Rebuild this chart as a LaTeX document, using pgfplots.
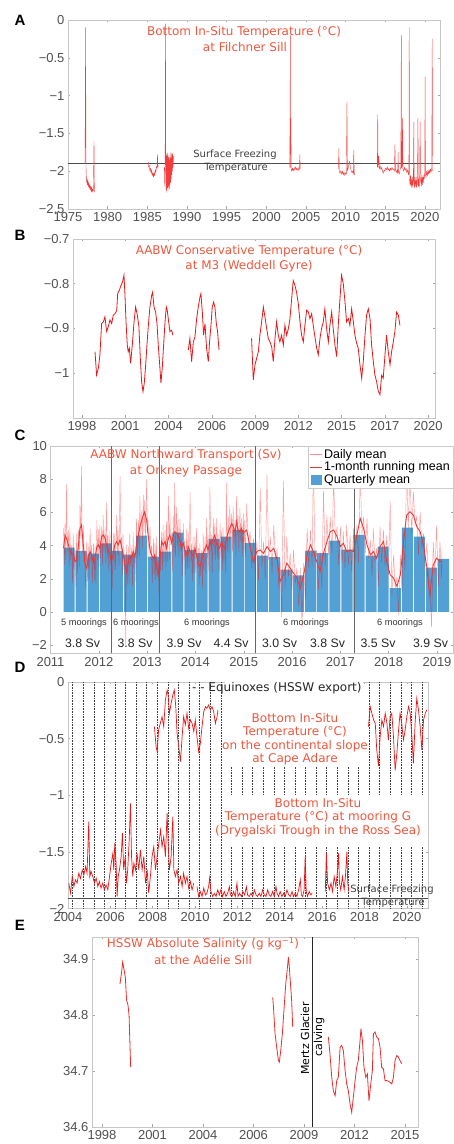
\documentclass[border=0pt]{standalone}
\usepackage{fontspec}
\setmainfont{Liberation Sans}
\newfontfamily\dv{DejaVu Sans}
\usepackage{pgfplots}
\pgfplotsset{compat=1.18}
\definecolor{ttl}{RGB}{238,88,62}
\definecolor{dred}{RGB}{232,22,22}
\definecolor{ared}{RGB}{245,60,60}
\definecolor{barblue}{RGB}{82,160,212}
\definecolor{tickc}{RGB}{80,80,80}
\newcommand{\tf}{\fontsize{13}{15}\selectfont}
\newcommand{\ttf}{\dv\fontsize{12}{14}\selectfont}
\newcommand{\smf}{\dv\fontsize{10}{12}\selectfont}
\newcommand{\lf}{\fontsize{12.5}{14}\selectfont}
\pgfplotsset{base/.style={scale only axis, anchor=south west,
  axis line style={draw=black!22, line width=0.6pt},
  tick style={draw=black!35, line width=0.5pt}, major tick length=2.5pt, tick align=inside,
  ticklabel style={font=\tf, text=tickc},
  /pgf/number format/assume math mode=true, /pgf/number format/1000 sep={},
  unbounded coords=jump}}
\begin{document}
\begin{tikzpicture}[x=1pt,y=1pt]
\useasboundingbox (0,0) rectangle (454,1144);
% ---------------- A
\begin{axis}[base, at={(68pt,935pt)}, width=372pt, height=189pt,
  xmin=1975, xmax=2021.9, ymin=-2.5, ymax=0,
  xtick={1975,1980,1985,1990,1995,2000,2005,2010,2015,2020},
  ytick={-2.5,-2,-1.5,-1,-0.5,0}, yticklabels={−2.5,−2,−1.5,−1,−0.5,0}]
\addplot[black!70, line width=0.7pt] coordinates {(1975,-1.9) (2021.9,-1.9)};
\addplot[ared, line width=0.4pt, line join=round] coordinates {
(1977.15,-1.90) (1977.22,-0.10) (1977.27,-1.95) (1977.30,-2.05) (1977.35,-2.15) (1977.40,-2.10) (1977.45,-2.18) (1977.50,-2.12) (1977.55,-2.20) (1977.60,-2.15) (1977.65,-2.22) (1977.70,-2.17) (1977.75,-2.24) (1977.80,-2.19) (1977.85,-2.25) (1977.90,-2.20) (1977.95,-2.27) (1978.00,-2.22) (1978.05,-2.28) (1978.10,-2.24) (1978.20,-2.26) (1978.28,-1.60) (1978.32,-2.22) (1978.38,-2.28)
(1980,nan)
(1985.12,-1.88) (1985.18,-1.95) (1985.25,-1.92) (1985.32,-2.00) (1985.40,-1.96) (1985.48,-2.03) (1985.55,-1.98) (1985.62,-2.06) (1985.70,-2.02) (1985.78,-2.08) (1985.85,-2.02) (1985.92,-2.06) (1986.00,-1.98) (1986.08,-2.02) (1986.15,-1.94) (1986.22,-1.96) (1986.28,-1.78) (1986.33,-1.95) (1986.38,-1.92)
(1986.7,nan)
(1987.15,-1.95) (1987.20,-2.20) (1987.25,-1.80) (1987.30,-0.05) (1987.33,-1.85) (1987.37,-2.25) (1987.41,-1.78) (1987.45,-2.28) (1987.49,-1.80) (1987.53,-2.22) (1987.57,-1.76) (1987.61,-2.26) (1987.65,-1.82) (1987.69,-2.20) (1987.73,-1.78) (1987.77,-2.24) (1987.81,-1.85) (1987.85,-2.18) (1987.89,-1.76) (1987.93,-2.15) (1987.97,-1.82) (1988.01,-2.10) (1988.05,-1.76) (1988.09,-2.05) (1988.13,-1.78) (1988.17,-2.00) (1988.21,-1.76) (1988.25,-1.95) (1988.30,-1.80)
(1995,nan)
(2002.95,-1.95) (2003.00,-1.30) (2003.03,-0.20) (2003.06,-1.95) (2003.10,-1.30) (2003.14,-1.97) (2003.2,-2.00) (2003.3,-1.96) (2003.4,-2.00) (2003.5,-1.95) (2003.6,-1.99) (2003.7,-1.94) (2003.8,-1.98) (2003.9,-1.96) (2004.0,-2.00) (2004.1,-1.95) (2004.18,-1.98) (2004.23,-1.78) (2004.28,-1.97)
(2006,nan)
(2009.10,-1.98) (2009.15,-1.70) (2009.20,-2.00) (2009.30,-2.03) (2009.40,-1.99) (2009.50,-2.04) (2009.60,-2.00) (2009.70,-2.05) (2009.80,-2.01) (2009.90,-2.06) (2010.00,-2.02) (2010.10,-2.04) (2010.17,-1.08) (2010.22,-1.99) (2010.30,-1.97) (2010.40,-1.92) (2010.50,-1.87) (2010.60,-1.95) (2010.70,-1.99) (2010.80,-2.02) (2010.90,-2.00) (2010.98,-2.04) (2011.03,-1.72) (2011.08,-2.02) (2011.15,-2.05)
(2012,nan)
(2014.00,-1.95) (2014.05,-1.25) (2014.10,-1.95) (2014.20,-1.80) (2014.25,-1.97) (2014.35,-1.93) (2014.45,-1.98) (2014.55,-1.95) (2014.65,-2.00) (2014.75,-2.03) (2014.85,-1.98) (2014.95,-2.00) (2015.05,-1.96) (2015.15,-1.98) (2015.25,-1.94) (2015.35,-1.99) (2015.45,-1.96) (2015.55,-2.00) (2015.65,-1.96) (2015.75,-1.99) (2015.85,-1.95) (2015.95,-1.98) (2016.05,-1.97) (2016.15,-2.00) (2016.22,-1.65) (2016.28,-1.98) (2016.38,-2.02) (2016.48,-1.98) (2016.58,-2.03) (2016.62,-1.75) (2016.66,-2.00) (2016.76,-2.04) (2016.86,-1.98) (2016.96,-1.95) (2017.02,-0.20) (2017.06,-1.96) (2017.12,-1.92) (2017.18,-1.30) (2017.22,-1.97) (2017.32,-2.00) (2017.42,-1.95) (2017.52,-1.99) (2017.62,-1.96) (2017.72,-2.02) (2017.82,-1.98) (2017.92,-2.05) (2017.98,-2.02) (2018.02,-0.10) (2018.06,-2.10) (2018.12,-2.18) (2018.18,-2.05) (2018.24,-2.20) (2018.30,-2.10) (2018.36,-2.22) (2018.42,-2.08) (2018.48,-2.20) (2018.54,-2.12) (2018.60,-1.35) (2018.64,-2.15) (2018.70,-2.22) (2018.76,-2.08) (2018.82,-2.20) (2018.88,-2.12) (2018.94,-2.22) (2019.00,-2.06) (2019.06,-2.18) (2019.12,-1.30) (2019.16,-2.20) (2019.22,-2.10) (2019.28,-2.22) (2019.34,-2.06) (2019.40,-1.35) (2019.44,-2.15) (2019.50,-2.08) (2019.56,-2.20) (2019.62,-2.05) (2019.68,-2.18) (2019.74,-2.08) (2019.80,-2.15) (2019.86,-2.05) (2019.92,-2.10) (2019.98,-2.02) (2020.02,-0.75) (2020.06,-2.05) (2020.14,-2.08) (2020.22,-2.00) (2020.30,-2.06) (2020.38,-1.99) (2020.46,-2.04) (2020.54,-1.98) (2020.62,-2.03) (2020.70,-1.97) (2020.78,-2.01) (2020.86,-1.96) (2020.92,-0.25) (2020.96,-1.98) (2021.02,-2.00)};
\end{axis}
% ---------------- B
\begin{axis}[base, at={(73pt,726pt)}, width=362pt, height=179pt,
  xmin=1997.43, xmax=2020.44, ymin=-1.1, ymax=-0.7,
  xtick={1998,2000.75,2003.5,2006.25,2009,2011.75,2014.5,2017.25,2020},
  xticklabels={1998,2001,2004,2006,2009,2012,2015,2017,2020},
  ytick={-1,-0.9,-0.8,-0.7}, yticklabels={−1,−0.9,−0.8,−0.7}]
\addplot[dred, line width=0.8pt] coordinates {
(1998.83,-0.952) (1998.93,-1.004) (1999.04,-0.989) (1999.14,-0.959) (1999.25,-0.889) (1999.36,-0.885) (1999.46,-0.874) (1999.57,-0.907) (1999.67,-0.896) (1999.78,-0.881) (1999.89,-0.889) (1999.99,-0.870) (2000.10,-0.867) (2000.21,-0.859) (2000.27,-0.822) (2000.37,-0.815) (2000.48,-0.804) (2000.58,-0.796) (2000.67,-0.781) (2000.73,-0.822) (2000.80,-0.885) (2000.88,-0.937) (2000.94,-0.952) (2001.01,-0.944) (2001.09,-0.978) (2001.20,-0.937) (2001.31,-0.885) (2001.41,-0.852) (2001.52,-0.870) (2001.62,-0.896) (2001.71,-0.967) (2001.79,-1.019) (2001.88,-1.041) (2001.96,-1.022) (2002.05,-0.981) (2002.13,-0.937) (2002.22,-0.893) (2002.32,-0.852) (2002.43,-0.826) (2002.49,-0.819) (2002.58,-0.852) (2002.68,-0.863) (2002.77,-0.889) (2002.85,-0.937) (2002.94,-0.981) (2003.02,-1.022) (2003.11,-0.985) (2003.19,-0.937) (2003.28,-0.885) (2003.36,-0.852) (2003.42,-0.859) (2003.51,-0.885) (2003.59,-0.907) (2003.70,-0.904) (2003.78,-0.915)
(2004.3,nan)
(2004.76,-0.948) (2004.86,-0.922) (2004.97,-0.974) (2005.08,-0.930) (2005.18,-0.919) (2005.29,-0.878) (2005.39,-0.852) (2005.50,-0.830) (2005.56,-0.822) (2005.65,-0.863) (2005.73,-0.915) (2005.82,-0.889) (2005.92,-0.944) (2006.03,-0.974) (2006.11,-0.930) (2006.20,-0.893) (2006.28,-0.852) (2006.37,-0.841) (2006.45,-0.852) (2006.54,-0.889) (2006.62,-0.907) (2006.71,-0.948)
(2007.5,nan)
(2008.78,-0.922) (2008.89,-1.015) (2009.00,-0.981) (2009.10,-0.967) (2009.21,-0.952) (2009.31,-0.915) (2009.42,-0.885) (2009.53,-0.852) (2009.63,-0.874) (2009.74,-0.900) (2009.84,-0.922) (2009.95,-0.930) (2010.06,-0.941) (2010.16,-0.974) (2010.27,-0.922) (2010.37,-0.885) (2010.48,-0.915) (2010.58,-0.930) (2010.69,-0.915) (2010.80,-0.937) (2010.90,-0.893) (2011.01,-0.915) (2011.12,-0.900) (2011.22,-0.878) (2011.33,-0.833) (2011.43,-0.793) (2011.54,-0.804) (2011.64,-0.819) (2011.75,-0.844) (2011.86,-0.885) (2011.96,-0.915) (2012.07,-0.930) (2012.17,-0.893) (2012.28,-0.859) (2012.39,-0.863) (2012.49,-0.878) (2012.60,-0.867) (2012.70,-0.893) (2012.81,-0.919) (2012.92,-0.944) (2013.02,-0.959) (2013.13,-0.922) (2013.23,-0.900) (2013.34,-0.885) (2013.44,-0.856) (2013.55,-0.900) (2013.66,-0.930) (2013.76,-0.893) (2013.87,-0.863) (2013.97,-0.900) (2014.08,-0.937) (2014.19,-0.963) (2014.29,-0.893) (2014.40,-0.833) (2014.50,-0.781) (2014.61,-0.800) (2014.72,-0.841) (2014.82,-0.885) (2014.93,-0.878) (2015.03,-0.893) (2015.14,-0.856) (2015.25,-0.885) (2015.35,-0.915) (2015.46,-0.933) (2015.56,-0.944) (2015.67,-0.981) (2015.78,-1.011) (2015.88,-0.974) (2015.99,-0.915) (2016.09,-0.870) (2016.20,-0.856) (2016.31,-0.878) (2016.41,-0.937) (2016.52,-0.974) (2016.62,-1.004) (2016.73,-1.019) (2016.84,-1.041) (2016.94,-1.048) (2017.05,-1.004) (2017.15,-1.011) (2017.26,-0.959) (2017.36,-0.915) (2017.47,-0.952) (2017.58,-0.981) (2017.68,-0.952) (2017.79,-0.930) (2017.89,-0.907) (2018.00,-0.863) (2018.11,-0.870) (2018.21,-0.893)};
\end{axis}
% ---------------- C
\begin{axis}[base, at={(50.5pt,490.5pt)}, width=402.5pt, height=207.5pt,
  xmin=2011, xmax=2019.33, ymin=-2.5, ymax=10,
  xtick={2011,2012,...,2019}, ytick={-2,0,2,4,6,8,10}, yticklabels={−2,0,2,4,6,8,10},
  legend style={at={(1,1)}, anchor=north east, draw=black!20, fill=white, font=\lf,
    inner xsep=1pt, inner ysep=1pt, row sep=-2pt, cells={anchor=west}}]
\addlegendimage{legend image code/.code={\draw[red!45, line width=0.5pt] (0pt,0pt) -- (12pt,0pt);}}
\addlegendimage{legend image code/.code={\draw[dred!85, line width=1pt] (0pt,0pt) -- (12pt,0pt);}}
\addlegendimage{legend image code/.code={\fill[barblue] (2pt,-4.5pt) rectangle (12pt,4.5pt);}}
\addplot[ybar, bar width=0.23, fill=barblue, draw=none, forget plot] coordinates {
(2011.385,3.88) (2011.635,3.68) (2011.885,3.52) (2012.135,4.14) (2012.385,3.68) (2012.635,3.46) (2012.885,4.60) (2013.135,3.34)
(2013.385,3.64) (2013.635,4.78) (2013.885,3.74) (2014.135,3.54) (2014.385,4.40) (2014.635,4.54) (2014.885,4.94) (2015.135,4.16)
(2015.385,3.40) (2015.635,3.30) (2015.885,2.55) (2016.135,2.20) (2016.385,3.70) (2016.635,3.55) (2016.885,4.30) (2017.135,3.75)
(2017.385,4.64) (2017.635,3.40) (2017.885,3.94) (2018.135,1.44) (2018.385,5.08) (2018.635,4.54) (2018.885,2.68) (2019.135,3.20)};
\addplot[red, opacity=0.4, line width=0.45pt, forget plot] coordinates {
(2011.27,5.04) (2011.287,2.84) (2011.30,5.34) (2011.317,3.14) (2011.33,7.7) (2011.347,3.64) (2011.37,4.94) (2011.387,2.74) (2011.40,5.14) (2011.417,3.14) (2011.44,4.04) (2011.457,1.74) (2011.47,4.74) (2011.487,2.54) (2011.51,3.74) (2011.527,1.54) (2011.54,4.74) (2011.557,2.34) (2011.58,4.94) (2011.597,2.74) (2011.61,6.44) (2011.627,4.44) (2011.64,8.8) (2011.657,3.54) (2011.68,5.24) (2011.697,3.04) (2011.71,3.64) (2011.727,1.44) (2011.75,4.24) (2011.767,1.84) (2011.78,4.14) (2011.797,1.94) (2011.82,5.04) (2011.837,3.04) (2011.85,4.04) (2011.867,1.74) (2011.89,4.14) (2011.907,1.94) (2011.92,3.94) (2011.937,1.74) (2011.96,5.54) (2011.977,3.14) (2011.99,4.94) (2012.007,2.74)
(2012.02,5.24) (2012.037,3.24) (2012.06,5.14) (2012.077,2.84) (2012.09,5.84) (2012.107,3.64) (2012.13,5.14) (2012.147,2.94) (2012.16,6.6) (2012.177,3.24) (2012.19,4.64) (2012.207,2.44) (2012.23,4.84) (2012.247,2.84) (2012.26,3.64) (2012.277,1.34) (2012.30,4.74) (2012.317,2.54) (2012.33,4.74) (2012.347,2.54) (2012.37,5.84) (2012.387,3.44) (2012.40,4.94) (2012.417,2.74) (2012.44,8.2) (2012.457,3.74) (2012.47,4.54) (2012.487,2.24) (2012.50,4.74) (2012.517,2.54) (2012.54,3.54) (2012.557,-2.0) (2012.57,4.04) (2012.587,1.64) (2012.61,3.94) (2012.627,1.74) (2012.64,4.74) (2012.657,2.74) (2012.68,3.84) (2012.697,1.54) (2012.71,4.84) (2012.727,2.64) (2012.75,4.04) (2012.767,1.84) (2012.78,5.64) (2012.797,3.24) (2012.82,5.54) (2012.837,3.34) (2012.85,7.0) (2012.867,4.54) (2012.89,6.14) (2012.907,3.84) (2012.92,7.04) (2012.937,4.84) (2012.95,6.74) (2012.967,4.54) (2012.99,8.0) (2013.007,4.74)
(2013.02,5.54) (2013.037,3.34) (2013.06,5.14) (2013.077,3.14) (2013.09,4.04) (2013.107,1.74) (2013.13,4.44) (2013.147,2.24) (2013.16,4.14) (2013.177,1.94) (2013.19,4.54) (2013.207,2.14) (2013.23,3.14) (2013.247,0.94) (2013.26,4.44) (2013.277,2.44) (2013.30,4.84) (2013.317,2.54) (2013.33,5.24) (2013.347,3.04) (2013.37,4.94) (2013.387,2.74) (2013.40,5.44) (2013.417,3.04) (2013.44,7.0) (2013.457,3.14) (2013.47,6.04) (2013.487,4.04) (2013.51,4.74) (2013.527,2.44) (2013.54,5.84) (2013.557,3.64) (2013.57,7.8) (2013.587,3.34) (2013.61,6.34) (2013.627,3.94) (2013.64,5.54) (2013.657,3.34) (2013.68,5.64) (2013.697,3.64) (2013.71,4.44) (2013.727,2.14) (2013.75,5.34) (2013.767,3.14) (2013.78,4.44) (2013.797,2.24) (2013.82,5.04) (2013.837,2.64) (2013.85,4.84) (2013.867,2.64) (2013.89,7.2) (2013.907,3.04) (2013.92,4.14) (2013.937,1.84) (2013.95,4.54) (2013.967,2.34) (2013.99,4.54) (2014.007,2.34)
(2014.02,5.04) (2014.037,2.64) (2014.06,3.84) (2014.077,1.64) (2014.09,4.14) (2014.107,2.14) (2014.13,3.74) (2014.147,1.44) (2014.16,4.74) (2014.177,2.54) (2014.20,4.54) (2014.217,2.34) (2014.23,5.64) (2014.247,3.24) (2014.26,4.64) (2014.277,2.44) (2014.30,7.5) (2014.317,3.64) (2014.33,4.64) (2014.347,2.34) (2014.37,5.64) (2014.387,3.44) (2014.40,5.34) (2014.417,3.14) (2014.44,5.64) (2014.457,3.24) (2014.47,4.64) (2014.487,2.44) (2014.51,5.34) (2014.527,3.34) (2014.54,4.84) (2014.557,2.54) (2014.57,5.14) (2014.587,2.94) (2014.61,4.54) (2014.627,2.34) (2014.64,7.8) (2014.657,3.64) (2014.68,5.74) (2014.697,3.54) (2014.71,6.44) (2014.727,4.44) (2014.75,5.94) (2014.767,3.64) (2014.78,6.34) (2014.797,4.14) (2014.82,5.54) (2014.837,3.34) (2014.85,7.0) (2014.867,4.64) (2014.88,5.84) (2014.897,3.64) (2014.92,6.24) (2014.937,4.24) (2014.95,5.64) (2014.967,3.34) (2014.99,5.94) (2015.007,3.74)
(2015.02,5.54) (2015.037,3.34) (2015.06,6.54) (2015.095,4.14) (2015.13,4.84) (2015.165,2.64) (2015.20,4.44) (2015.235,2.44) (2015.27,4.24) (2015.305,1.94) (2015.34,7.5) (2015.375,2.74) (2015.41,4.24) (2015.445,2.04) (2015.48,8.3) (2015.515,3.14) (2015.55,4.54) (2015.585,2.34) (2015.62,5.24) (2015.655,3.24) (2015.69,3.74) (2015.725,1.44) (2015.75,3.04) (2015.785,-0.3) (2015.82,7.9) (2015.855,1.44) (2015.89,4.54) (2015.925,2.14) (2015.96,3.54) (2015.995,1.34)
(2016.03,3.74) (2016.065,1.74) (2016.10,2.64) (2016.135,0.34) (2016.17,2.64) (2016.205,-0.9) (2016.24,2.94) (2016.275,0.74) (2016.31,5.04) (2016.345,2.64) (2016.38,4.94) (2016.415,2.74) (2016.44,9.2) (2016.475,3.04) (2016.51,3.64) (2016.545,1.34) (2016.58,3.64) (2016.615,1.44) (2016.65,7.3) (2016.685,2.74) (2016.72,5.84) (2016.755,3.44) (2016.79,5.74) (2016.825,3.54) (2016.86,8.0) (2016.895,4.34) (2016.93,5.14) (2016.965,2.84)
(2017.00,5.14) (2017.035,2.94) (2017.06,4.84) (2017.095,2.64) (2017.13,5.24) (2017.165,2.84) (2017.20,4.64) (2017.235,2.44) (2017.27,5.04) (2017.305,3.04) (2017.34,5.24) (2017.375,2.94) (2017.41,8.5) (2017.445,4.64) (2017.48,5.74) (2017.515,3.54) (2017.55,5.64) (2017.585,3.24) (2017.62,4.34) (2017.655,2.14) (2017.68,5.04) (2017.715,3.04) (2017.75,3.84) (2017.785,1.54) (2017.82,5.14) (2017.855,2.94) (2017.89,4.94) (2017.925,2.74) (2017.96,4.64) (2017.995,2.24)
(2018.03,6.7) (2018.065,0.94) (2018.10,3.44) (2018.135,1.44) (2018.17,2.14) (2018.205,-0.16) (2018.24,3.44) (2018.275,1.24) (2018.30,4.74) (2018.335,2.54) (2018.37,9.0) (2018.405,5.04) (2018.44,8.5) (2018.475,4.74) (2018.51,7.24) (2018.545,5.24) (2018.58,5.74) (2018.615,3.44) (2018.65,6.04) (2018.685,3.84) (2018.72,4.74) (2018.755,2.74) (2018.79,4.24) (2018.825,1.84) (2018.85,1.90) (2018.885,-0.9) (2018.92,4.24) (2018.955,2.24) (2018.99,5.2) (2019.025,1.54) (2019.06,4.24) (2019.095,2.04) (2019.10,3.6)};
\addplot[dred!85, line width=0.9pt, forget plot] coordinates {
(2011.27,3.84) (2011.30,4.64) (2011.33,4.44) (2011.37,4.04) (2011.40,3.74) (2011.44,3.44) (2011.47,3.54) (2011.51,3.04) (2011.54,3.14) (2011.58,4.04) (2011.61,5.04) (2011.64,5.24) (2011.68,4.04) (2011.71,2.94) (2011.75,2.64) (2011.78,3.24) (2011.82,3.64) (2011.85,3.44) (2011.89,2.94) (2011.92,3.24) (2011.96,3.94) (2011.99,4.04) (2012.02,3.84) (2012.06,4.54) (2012.09,4.64) (2012.13,4.44) (2012.16,4.04) (2012.19,3.74) (2012.23,3.44) (2012.26,3.04) (2012.30,3.54) (2012.33,4.04) (2012.37,4.24) (2012.40,4.04) (2012.44,4.34) (2012.47,3.94) (2012.50,3.54) (2012.54,2.84) (2012.57,2.44) (2012.61,3.04) (2012.64,3.34) (2012.68,3.24) (2012.71,3.64) (2012.75,3.34) (2012.78,4.04) (2012.82,4.64) (2012.85,5.14) (2012.89,5.54) (2012.92,5.84) (2012.95,6.04) (2012.99,5.54) (2013.02,4.64) (2013.06,3.74) (2013.09,3.44) (2013.13,3.24) (2013.16,3.44) (2013.19,2.94) (2013.23,2.24) (2013.26,3.04) (2013.30,4.24) (2013.33,4.04) (2013.37,4.24) (2013.40,3.84) (2013.44,4.44) (2013.47,4.64) (2013.51,4.14) (2013.54,4.64) (2013.57,4.84) (2013.61,4.74) (2013.64,4.64) (2013.68,4.24) (2013.71,3.84) (2013.75,4.14) (2013.78,3.74) (2013.82,3.44) (2013.85,3.94) (2013.89,3.64) (2013.92,3.54) (2013.95,3.34) (2013.99,3.84) (2014.02,3.44) (2014.06,2.94) (2014.09,2.74) (2014.13,3.14) (2014.16,3.54) (2014.20,3.84) (2014.23,4.04) (2014.26,3.74) (2014.30,4.24) (2014.33,4.04) (2014.37,4.44) (2014.40,4.64) (2014.44,4.04) (2014.47,3.74) (2014.51,3.94) (2014.54,4.24) (2014.57,3.94) (2014.61,3.84) (2014.64,4.44) (2014.68,4.84) (2014.71,5.04) (2014.75,5.34) (2014.78,5.14) (2014.82,4.84) (2014.85,5.44) (2014.88,4.94) (2014.92,4.84) (2014.95,5.04) (2014.99,4.74) (2015.02,4.84) (2015.06,4.94) (2015.13,3.94) (2015.20,3.04) (2015.27,3.64) (2015.34,3.74) (2015.41,3.54) (2015.48,3.94) (2015.55,3.64) (2015.62,3.84) (2015.69,3.14) (2015.75,1.84) (2015.82,2.24) (2015.89,2.94) (2015.96,2.64) (2016.03,2.34) (2016.10,2.04) (2016.17,1.44) (2016.24,2.24) (2016.31,3.44) (2016.38,4.04) (2016.44,3.64) (2016.51,3.04) (2016.58,2.44) (2016.65,3.54) (2016.72,4.24) (2016.79,4.84) (2016.86,4.94) (2016.93,4.54) (2017.00,3.94) (2017.06,4.14) (2017.13,3.64) (2017.20,3.74) (2017.27,3.64) (2017.34,4.64) (2017.41,5.64) (2017.48,5.04) (2017.55,4.04) (2017.62,3.44) (2017.68,3.64) (2017.75,3.24) (2017.82,3.94) (2017.89,4.24) (2017.96,3.04) (2018.03,2.24) (2018.10,2.04) (2018.17,1.54) (2018.24,2.24) (2018.30,4.04) (2018.37,5.84) (2018.44,6.04) (2018.51,5.84) (2018.58,5.14) (2018.65,4.84) (2018.72,4.04) (2018.79,2.64) (2018.85,1.00) (2018.92,2.84) (2018.99,3.24) (2019.06,3.04) (2019.10,3.04)};
\addplot[black!60, line width=0.8pt, forget plot] coordinates {(2012.27,-2.5) (2012.27,10) (2012.5,nan) (2013.25,-2.5) (2013.25,10) (2014,nan) (2015.25,-2.5) (2015.25,10) (2016,nan) (2017.28,-2.5) (2017.28,10)};
\legend{Daily mean, 1-month running mean, Quarterly mean}
\end{axis}
% ---------------- D
\begin{axis}[base, at={(68pt,235.5pt)}, width=360pt, height=226.5pt,
  xmin=2004, xmax=2021, ymin=-2, ymax=0,
  xtick={2004,2006,...,2020}, ytick={-2,-1.5,-1,-0.5,0}, yticklabels={−2,−1.5,−1,−0.5,0}]
\addplot[ycomb, black!75, densely dotted, line width=0.6pt] coordinates {
(2004.22,-2) (2004.72,-2) (2005.22,-2) (2005.72,-2) (2006.22,-2) (2006.72,-2) (2007.22,-2) (2007.72,-2) (2008.22,-2) (2008.72,-2) (2009.22,-2) (2009.72,-2) (2010.22,-2) (2010.72,-2) (2011.22,-2) (2011.72,-2) (2012.22,-2) (2012.72,-2) (2013.22,-2) (2013.72,-2) (2014.22,-2) (2014.72,-2) (2015.22,-2) (2015.72,-2) (2016.22,-2) (2016.72,-2) (2017.22,-2) (2017.72,-2) (2018.22,-2) (2018.72,-2) (2019.22,-2) (2019.72,-2) (2020.22,-2) (2020.72,-2)};
\fill[white] (axis cs:2011.4,0) rectangle (axis cs:2017.95,-0.75);
\fill[white] (axis cs:2011.4,-0.997) rectangle (axis cs:2021,-1.456);
\addplot[black!70, line width=0.7pt] coordinates {(2004,-1.906) (2021,-1.906)};
\addplot[dred, line width=0.7pt] coordinates {
(2008.08,-0.394) (2008.16,-0.571) (2008.21,-0.615) (2008.28,-0.42) (2008.36,-0.365) (2008.44,-0.306) (2008.52,-0.394) (2008.60,-0.159) (2008.68,-0.071) (2008.73,-0.115) (2008.79,-0.276) (2008.87,-0.188) (2008.95,-0.115) (2009.02,-0.071) (2009.09,-0.218) (2009.15,-0.453) (2009.23,-0.571) (2009.31,-0.703) (2009.39,-0.482) (2009.46,-0.306) (2009.54,-0.379) (2009.62,-0.276) (2009.70,-0.409) (2009.78,-0.335) (2009.86,-0.365) (2009.94,-0.438) (2010.01,-0.335) (2010.09,-0.482) (2010.17,-0.615) (2010.25,-0.541) (2010.33,-0.394) (2010.41,-0.262) (2010.49,-0.218) (2010.56,-0.232) (2010.64,-0.203) (2010.72,-0.247) (2010.80,-0.218) (2010.88,-0.262) (2010.96,-0.365) (2011.04,-0.306) (2011.08,-0.247)
(2014,nan)
(2018.19,-0.394) (2018.27,-0.218) (2018.35,-0.276) (2018.43,-0.335) (2018.51,-0.365) (2018.58,-0.6) (2018.66,-0.74) (2018.74,-0.482) (2018.82,-0.335) (2018.90,-0.394) (2018.98,-0.276) (2019.06,-0.365) (2019.13,-0.512) (2019.21,-0.306) (2019.29,-0.276) (2019.37,-0.482) (2019.45,-0.78) (2019.53,-0.629) (2019.61,-0.424) (2019.68,-0.276) (2019.76,-0.365) (2019.84,-0.512) (2019.92,-0.424) (2020.00,-0.306) (2020.08,-0.218) (2020.16,-0.276) (2020.24,-0.482) (2020.31,-0.718) (2020.39,-0.365) (2020.47,-0.144) (2020.55,-0.247) (2020.63,-0.394) (2020.71,-0.6) (2020.79,-0.335) (2020.87,-0.276) (2020.94,-0.247)};
\addplot[dred, line width=0.7pt] coordinates {
(2004.04,-1.776) (2004.12,-1.865) (2004.20,-1.718) (2004.28,-1.806) (2004.35,-1.747) (2004.43,-1.776) (2004.51,-1.688) (2004.59,-1.735) (2004.67,-1.659) (2004.75,-1.703) (2004.83,-1.629) (2004.90,-1.688) (2004.98,-1.232) (2005.03,-1.718) (2005.09,-1.674) (2005.17,-1.718) (2005.25,-1.776) (2005.33,-1.732) (2005.41,-1.806) (2005.48,-1.762) (2005.56,-1.82) (2005.64,-1.776) (2005.72,-1.835) (2005.80,-1.791) (2005.88,-1.835) (2005.96,-1.718) (2006.04,-1.6) (2006.12,-1.512) (2006.16,-1.659) (2006.21,-1.424) (2006.27,-1.6) (2006.32,-1.894) (2006.37,-1.718) (2006.43,-1.659) (2006.51,-1.541) (2006.57,-1.335) (2006.63,-1.659) (2006.70,-1.541) (2006.76,-1.776) (2006.82,-1.659) (2006.89,-1.394) (2006.95,-1.071) (2007.00,-1.541) (2007.06,-1.718) (2007.11,-1.6) (2007.19,-1.659) (2007.26,-1.512) (2007.34,-1.659) (2007.42,-1.482) (2007.50,-1.659) (2007.58,-1.541) (2007.66,-1.776) (2007.74,-1.659) (2007.81,-1.865) (2007.89,-1.718) (2007.97,-1.541) (2008.05,-1.453) (2008.13,-1.659) (2008.21,-1.541) (2008.29,-1.424) (2008.37,-1.306) (2008.44,-1.453) (2008.52,-1.365) (2008.60,-1.541) (2008.68,-1.159) (2008.73,-1.424) (2008.79,-1.659) (2008.87,-1.541) (2008.95,-1.188) (2009.00,-1.659) (2009.07,-1.718) (2009.15,-1.659) (2009.23,-1.776) (2009.31,-1.718) (2009.39,-1.806) (2009.46,-1.688) (2009.54,-1.776) (2009.62,-1.718) (2009.70,-1.82) (2009.78,-1.762) (2009.86,-1.835) (2009.94,-1.776)
(2010.02,nan)
(2010.09,-1.806) (2010.17,-1.894) (2010.25,-1.85) (2010.33,-1.894) (2010.41,-1.82) (2010.49,-1.88) (2010.56,-1.865) (2010.64,-1.806) (2010.69,-1.73) (2010.75,-1.85) (2010.83,-1.894) (2010.91,-1.865) (2010.99,-1.894) (2011.07,-1.835) (2011.15,-1.88) (2011.22,-1.835) (2011.30,-1.894) (2011.38,-1.85) (2011.46,-1.894) (2011.54,-1.865) (2011.62,-1.806) (2011.67,-1.88) (2011.74,-1.894) (2011.82,-1.85) (2011.90,-1.894) (2011.98,-1.776) (2012.03,-1.894) (2012.10,-1.865) (2012.19,-1.894) (2012.26,-1.85) (2012.34,-1.88) (2012.42,-1.806) (2012.48,-1.88) (2012.56,-1.894) (2012.64,-1.865) (2012.72,-1.894) (2012.80,-1.835) (2012.88,-1.88) (2012.95,-1.894) (2013.03,-1.865) (2013.11,-1.894) (2013.19,-1.835) (2013.27,-1.88) (2013.35,-1.894) (2013.43,-1.835) (2013.50,-1.88) (2013.58,-1.894) (2013.66,-1.85) (2013.74,-1.894) (2013.82,-1.806) (2013.87,-1.865) (2013.94,-1.894) (2014.02,-1.85) (2014.10,-1.894) (2014.18,-1.865) (2014.26,-1.894) (2014.34,-1.835) (2014.42,-1.88) (2014.50,-1.894) (2014.58,-1.85) (2014.65,-1.894) (2014.73,-1.865) (2014.81,-1.894) (2014.89,-1.835) (2014.97,-1.747) (2015.02,-1.88) (2015.08,-1.894) (2015.15,-1.835) (2015.20,-1.541) (2015.25,-1.85) (2015.31,-1.894) (2015.39,-1.85) (2015.47,-1.88) (2015.53,-1.865)
(2015.8,nan)
(2016.15,-1.85) (2016.20,-1.512) (2016.26,-1.776) (2016.34,-1.835) (2016.42,-1.776) (2016.49,-1.85) (2016.57,-1.718) (2016.65,-1.806) (2016.73,-1.659) (2016.78,-1.512) (2016.82,-1.776) (2016.88,-1.835) (2016.96,-1.718) (2017.04,-1.835) (2017.10,-1.718) (2017.17,-1.497) (2017.21,-1.776) (2017.26,-1.85)};
\end{axis}
% ---------------- E
\begin{axis}[base, at={(92pt,17pt)}, width=326pt, height=190pt,
  xmin=1997.44, xmax=2015.73, ymin=34.6, ymax=34.94,
  xtick={1998,2000.8333,2003.6667,2006.5,2009.3333,2012.1667,2015},
  xticklabels={1998,2001,2004,2006,2009,2012,2015},
  ytick={34.6,34.7,34.8,34.9}, yticklabels={34.6,34.7,34.8,34.9}]
\addplot[black!85, line width=0.8pt] coordinates {(2009.78,34.6) (2009.78,34.94)};
\addplot[dred!90, line width=0.8pt] coordinates {
(1999.01,34.856) (1999.10,34.877) (1999.16,34.895) (1999.23,34.883) (1999.31,34.868) (1999.38,34.827) (1999.46,34.818) (1999.52,34.8) (1999.55,34.767) (1999.61,34.707)
(2003,nan)
(2007.58,34.832) (2007.62,34.815) (2007.71,34.767) (2007.80,34.743) (2007.90,34.719) (2007.95,34.716) (2008.03,34.737) (2008.12,34.767) (2008.21,34.809) (2008.31,34.856) (2008.36,34.871) (2008.46,34.904) (2008.51,34.886) (2008.59,34.85) (2008.64,34.827) (2008.70,34.779)
(2009.5,nan)
(2010.70,34.761) (2010.79,34.731) (2010.89,34.689) (2010.98,34.665) (2011.08,34.656) (2011.17,34.683) (2011.26,34.689) (2011.36,34.743) (2011.45,34.746) (2011.54,34.737) (2011.64,34.701) (2011.73,34.677) (2011.82,34.665) (2011.92,34.641) (2012.01,34.626) (2012.10,34.653) (2012.20,34.683) (2012.29,34.707) (2012.38,34.719) (2012.48,34.755) (2012.53,34.776) (2012.61,34.755) (2012.70,34.707) (2012.80,34.689) (2012.89,34.695) (2012.98,34.647) (2013.08,34.677) (2013.17,34.701) (2013.23,34.767) (2013.32,34.77) (2013.41,34.761) (2013.51,34.758) (2013.60,34.743) (2013.69,34.707) (2013.79,34.704) (2013.88,34.683) (2013.97,34.683) (2014.07,34.682) (2014.16,34.68) (2014.26,34.677) (2014.35,34.689) (2014.44,34.719) (2014.54,34.728) (2014.63,34.725) (2014.72,34.719) (2014.82,34.713)};
\end{axis}
% ---------------- texts
\begin{scope}[every node/.style={inner sep=0pt}]
\foreach \l/\y in {A/1124,B/909,C/709,D/477,E/219}
  \node[font=\fontsize{15}{15}\selectfont\bfseries] at (20,\y) {\l};
\node[font=\ttf, text=ttl] at (244,1112) {Bottom In-Situ Temperature (°C)};
\node[font=\ttf, text=ttl] at (245,1097) {at Filchner Sill};
\node[font=\smf, text=black!75] at (235,989) {Surface Freezing};
\node[font=\smf, text=black!75] at (236,976) {Temperature};
\node[font=\ttf, text=ttl] at (249,893) {AABW Conservative Temperature (°C)};
\node[font=\ttf, text=ttl] at (249,878) {at M3 (Weddell Gyre)};
\node[font=\ttf, text=ttl] at (186,689) {AABW Northward Transport (Sv)};
\node[font=\ttf, text=ttl] at (186,673) {at Orkney Passage};
\foreach \x in {136,207,306,400} \node[font=\fontsize{9.2}{10}\selectfont, text=black!80] at (\x,521.3) {6 moorings};
\node[font=\fontsize{9.2}{10}\selectfont, text=black!80] at (84,521.3) {5 moorings};
\foreach \x/\t in {82.5/3.8,135/3.8,184/3.9,231/4.4,279.5/3.0,327.5/3.8,378/3.5,430.5/3.9}
  \node[font=\fontsize{12.3}{13}\selectfont, text=black!85] at (\x,500.7) {\t\ Sv};
\node[font=\dv\fontsize{12}{14}\selectfont, text=black!85, anchor=west] at (192,456) {- - Equinoxes (HSSW export)};
\node[font=\ttf, text=ttl] at (295,426) {Bottom In-Situ};
\node[font=\ttf, text=ttl] at (295,412) {Temperature (°C)};
\node[font=\ttf, text=ttl] at (295,398) {on the continental slope};
\node[font=\ttf, text=ttl] at (295,384.5) {at Cape Adare};
\node[font=\ttf, text=ttl] at (318,341) {Bottom In-Situ};
\node[font=\ttf, text=ttl] at (318,327) {Temperature (°C) at mooring G};
\node[font=\ttf, text=ttl] at (318,312.5) {(Drygalski Trough in the Ross Sea)};
\node[font=\smf, text=black!75] at (392,254) {Surface Freezing};
\node[font=\smf, text=black!75] at (393,241) {Temperature};
\node[font=\ttf, text=ttl] at (203,200) {HSSW Absolute Salinity (g kg\textsuperscript{−1})};
\node[font=\ttf, text=ttl] at (203,184.7) {at the Adélie Sill};
\node[font=\dv\fontsize{11}{12}\selectfont, rotate=90] at (305,105.7) {Mertz Glacier};
\node[font=\dv\fontsize{11}{12}\selectfont, rotate=90] at (319,107) {calving};
\end{scope}
\end{tikzpicture}
\end{document}
